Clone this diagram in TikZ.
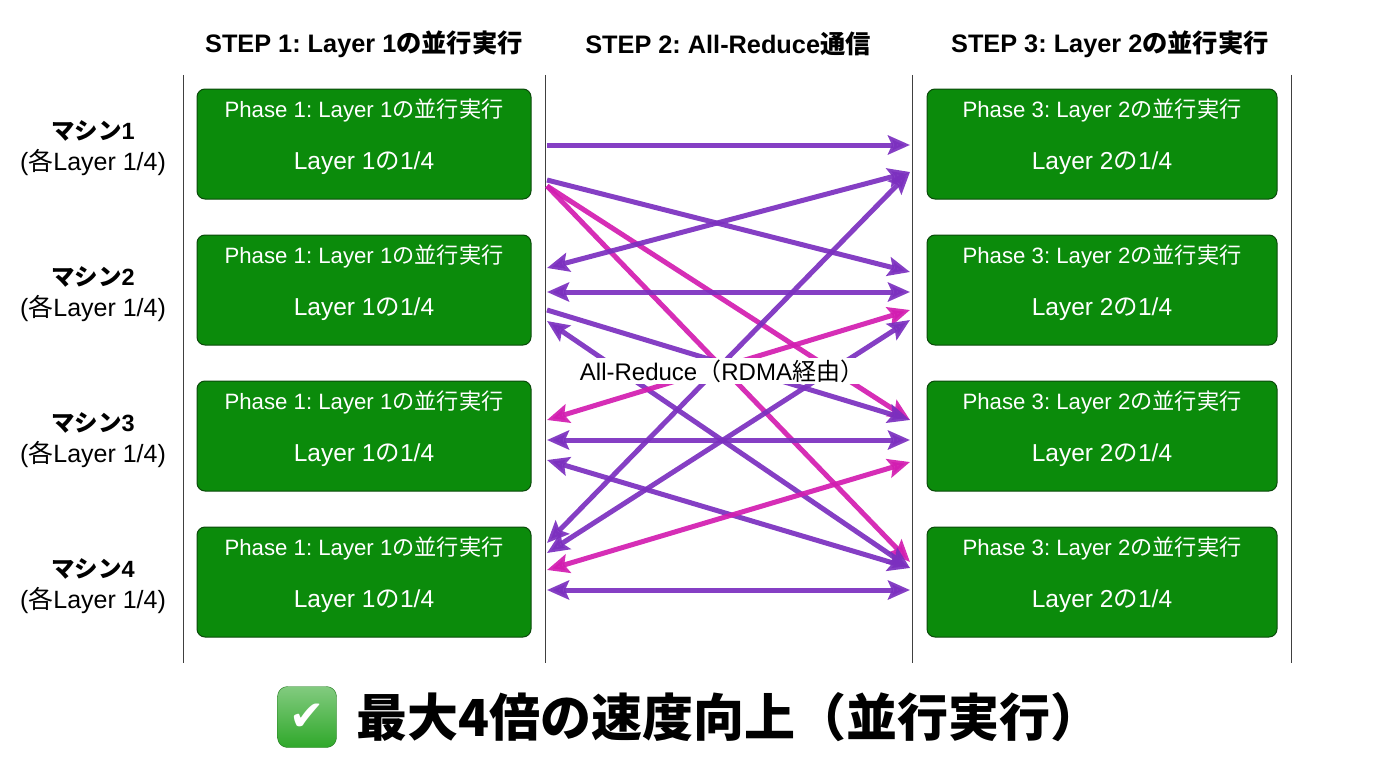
\documentclass[tikz,border=0pt]{standalone}
\usepackage{fontspec}
\setmainfont{Liberation Sans}
\newfontfamily\jp{Noto Sans CJK JP}
\newfontfamily\sym{DejaVu Sans}
\usetikzlibrary{arrows.meta,positioning}
\frenchspacing
\def\ja#1{{\jp #1}}
\definecolor{boxgreen}{HTML}{0B8B0B}
\definecolor{boxedge}{HTML}{0A4A0A}
\definecolor{arrpurple}{HTML}{7B2FBF}
\definecolor{arrpink}{HTML}{D21CB0}
\definecolor{okgreen}{HTML}{2FA82A}

\begin{document}
\begin{tikzpicture}[x=1pt, y=-1pt, >={Stealth[length=22pt, width=19pt, inset=4pt]},
  vline/.style={draw=black!75, line width=1pt},
  phase/.style={draw=boxedge, fill=boxgreen, rounded corners=8pt, line width=1pt, minimum height=110pt},
  boxtxt/.style={text=white, font=\fontsize{22.2}{26}\selectfont},
  boxsub/.style={text=white, font=\fontsize{24.5}{28}\selectfont},
  head/.style={font=\bfseries\fontsize{25.3}{30}\selectfont},
  mach/.style={align=center, font=\fontsize{25}{31}\selectfont},
  pr/.style={draw=arrpurple, line width=5pt, opacity=0.92},
  pk/.style={draw=arrpink, line width=5pt, opacity=0.92}]
\useasboundingbox (0,0) rectangle (1376,768);
% columns
\draw[vline] (183,75) -- (183,663);
\draw[vline] (545,75) -- (545,663);
\draw[vline] (912,75) -- (912,663);
\draw[vline] (1291,75) -- (1291,663);
\draw (364,44) node[head](h1){STEP 1: Layer 1\ja{の並行実行}};
\draw (728,44) node[head](h2){STEP 2: All-Reduce\ja{通信}};
\draw (1110,44) node[head](h3){STEP 3: Layer 2\ja{の並行実行}};
% machines
\draw (93,148) node[mach](m1){{\bfseries\fontsize{23.5}{31}\selectfont\ja{マシン}1}\\(\ja{各}Layer 1/4)};
\draw (93,294) node[mach](m2){{\bfseries\fontsize{23.5}{31}\selectfont\ja{マシン}2}\\(\ja{各}Layer 1/4)};
\draw (93,440) node[mach](m3){{\bfseries\fontsize{23.5}{31}\selectfont\ja{マシン}3}\\(\ja{各}Layer 1/4)};
\draw (93,586) node[mach](m4){{\bfseries\fontsize{23.5}{31}\selectfont\ja{マシン}4}\\(\ja{各}Layer 1/4)};
% phase boxes
\foreach \i/\y in {1/144, 2/290, 3/436, 4/582} {
  \draw (364,\y) node[phase, minimum width=334pt](p\i){};
  \draw (p\i.north) ++(0,22) node[boxtxt]{Phase 1: Layer 1\ja{の並行実行}};
  \draw (p\i.north) ++(0,75) node[boxsub]{Layer 1\ja{の}1/4};
  \draw (1102,\y) node[phase, minimum width=350pt](q\i){};
  \draw (q\i.north) ++(0,22) node[boxtxt]{Phase 3: Layer 2\ja{の並行実行}};
  \draw (q\i.north) ++(0,75) node[boxsub]{Layer 2\ja{の}1/4};
}
% all-reduce end points
\foreach \n/\y in {1/145, 2/180, 3/186, 4/268, 5/292, 6/310, 7/321, 8/420, 9/440, 10/460, 11/543, 12/553, 13/570, 14/590}
  \coordinate (l\n) at (547,\y);
\foreach \n/\y in {1/145, 2/172, 3/272, 4/292, 5/310, 6/320, 7/420, 8/440, 9/462, 10/562, 11/568, 12/590}
  \coordinate (r\n) at (910,\y);
\draw[pr, ->] (l1) -- (r1);
\draw[pr, ->] (l2) -- (r3);
\draw[pk, ->] (l3) -- (r7);
\draw[pk, ->] (l3) -- (r10);
\draw[pr, <->] (l4) -- (r2);
\draw[pr, <->] (l5) -- (r4);
\draw[pr, ->] (l6) -- (r7);
\draw[pr, <->] (l7) -- (r11);
\draw[pk, <->] (l8) -- (r5);
\draw[pr, <->] (l9) -- (r8);
\draw[pr, <->] (l10) -- (r11);
\draw[pr, <->] (l11) -- (r2);
\draw[pr, <->] (l12) -- (r6);
\draw[pk, <->] (l13) -- (r9);
\draw[pr, <->] (l14) -- (r12);
\draw (722,371) node[fill=white, inner sep=2pt, font=\fontsize{24}{28}\selectfont](ar){All-Reduce\ja{（}RDMA\ja{経由）}};
% result
\draw (307,717) node[draw=okgreen!70!black, top color=okgreen!60!white, bottom color=okgreen, rounded corners=10pt, minimum width=59pt, minimum height=61pt, inner sep=0pt](ok){\sym\color{white}\fontsize{42}{42}\selectfont ✔};
\node[right=16pt of ok, font=\jp\bfseries\fontsize{51}{58}\selectfont](goal){最大4倍の速度向上（並行実行）};
\end{tikzpicture}
\end{document}
